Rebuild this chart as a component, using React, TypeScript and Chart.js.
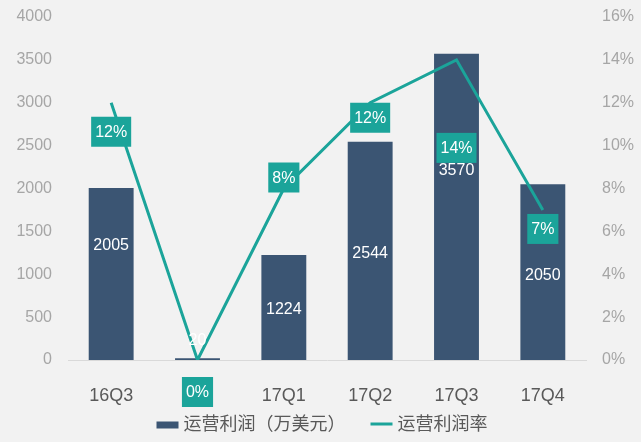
import React, { useEffect, useRef } from "react";
import { Chart, registerables } from "chart.js";

Chart.register(...registerables);

const categories = ["16Q3", "16Q4", "17Q1", "17Q2", "17Q3", "17Q4"];
const profit = [2005, 20, 1224, 2544, 3570, 2050];
const margin = [0.12, 0, 0.08, 0.12, 0.14, 0.07];
const profitLabel = "运营利润（万美元）";
const marginLabel = "运营利润率";
const leftTicks = [0, 500, 1000, 1500, 2000, 2500, 3000, 3500, 4000];
const hiddenCategoryLabels = ["16Q4"];

// label offsets (px) relative to anchor
const barLabelOffset = [-28, -19, 2, 3, -36, 3];
const lineLabelOffset = [29, 32, -11, 15, 88, 19];

const BAR = "#3B5573";
const TEAL = "#1BA49A";
const BG = "#F2F2F2";
const FONT = "'Liberation Sans', 'Noto Sans CJK SC', Arial, sans-serif";

const labelPlugin = {
  id: "customLabels",
  afterDatasetsDraw(chart: any) {
    const ctx = chart.ctx;
    const barMeta = chart.getDatasetMeta(0);
    const lineMeta = chart.getDatasetMeta(1);
    ctx.save();
    ctx.font = `16px ${FONT}`;
    ctx.textAlign = "center";
    ctx.textBaseline = "middle";
    barMeta.data.forEach((bar: any, i: number) => {
      const yc = (bar.y + bar.base) / 2 + barLabelOffset[i];
      ctx.fillStyle = "#FFFFFF";
      ctx.fillText(String(profit[i]), bar.x, yc);
    });
    lineMeta.data.forEach((pt: any, i: number) => {
      const text = Math.round(margin[i] * 100) + "%";
      const w = ctx.measureText(text).width + 8;
      const h = 30;
      const yc = pt.y + lineLabelOffset[i];
      ctx.fillStyle = TEAL;
      ctx.fillRect(pt.x - w / 2, yc - h / 2, w, h);
      ctx.fillStyle = "#FFFFFF";
      ctx.fillText(text, pt.x, yc + 1);
    });
    ctx.restore();
  },
  afterDraw(chart: any) {
    const ctx = chart.ctx;
    ctx.save();
    ctx.font = `18px ${FONT}`;
    ctx.textBaseline = "middle";
    ctx.textAlign = "left";
    const y = 425;
    const w1 = ctx.measureText(profitLabel).width;
    const w2 = ctx.measureText(marginLabel).width;
    const sym = 22;
    const gap = 5;
    const between = 25;
    const total = sym + gap + w1 + between + sym + gap + w2;
    let x = (chart.chartArea.left + chart.chartArea.right) / 2 - total / 2 - 5;
    ctx.fillStyle = BAR;
    ctx.fillRect(x, y - 3.5, sym, 7);
    x += sym + gap;
    ctx.fillStyle = "#595959";
    ctx.fillText(profitLabel, x, y);
    x += w1 + between;
    ctx.strokeStyle = TEAL;
    ctx.lineWidth = 3;
    ctx.beginPath();
    ctx.moveTo(x, y - 1);
    ctx.lineTo(x + sym, y - 1);
    ctx.stroke();
    x += sym + gap;
    ctx.fillStyle = "#595959";
    ctx.fillText(marginLabel, x, y);
    ctx.restore();
  },
};

export default function App() {
  const ref = useRef<HTMLCanvasElement | null>(null);
  useEffect(() => {
    document.body.style.margin = "0";
    document.body.style.background = BG;
    if (!ref.current) return;
    const chart = new Chart(ref.current, {
      type: "bar",
      data: {
        labels: categories,
        datasets: [
          {
            type: "bar",
            label: profitLabel,
            data: profit,
            backgroundColor: BAR,
            categoryPercentage: 1,
            barPercentage: 0.52,
            yAxisID: "y",
            order: 2,
          },
          {
            type: "line",
            label: marginLabel,
            data: margin,
            borderColor: TEAL,
            borderWidth: 3,
            pointRadius: 0,
            tension: 0,
            yAxisID: "y1",
            order: 1,
          } as any,
        ],
      },
      options: {
        animation: false,
        responsive: false,
        layout: { padding: { top: 17, bottom: 0, left: 0, right: 0 } },
        plugins: {
          legend: { display: false },
          tooltip: { enabled: false },
        },
        scales: {
          x: {
            grid: { display: false, drawTicks: false },
            border: { display: true, color: "#D9D9D9", width: 1 },
            ticks: {
              color: (c: any) =>
                hiddenCategoryLabels.includes(categories[c.index]) ? "rgba(0,0,0,0)" : "#595959",
              font: { family: FONT, size: 18 },
              padding: 25,
              maxRotation: 0,
            },
            afterFit(scale: any) {
              scale.height = 82;
              scale.paddingLeft = 0;
              scale.paddingRight = 0;
            },
          },
          y: {
            position: "left",
            min: 0,
            max: 4000,
            grid: { display: false, drawTicks: false },
            border: { display: false },
            afterBuildTicks(scale: any) {
              scale.ticks = leftTicks.map((v) => ({ value: v }));
            },
            ticks: {
              color: "#A6A6A6",
              font: { family: FONT, size: 16 },
              padding: 16,
              callback: (v: any) => String(v),
            },
            afterFit(scale: any) {
              scale.width = 68;
              scale.paddingTop = 0;
              scale.paddingBottom = 0;
            },
          },
          y1: {
            position: "right",
            min: 0,
            max: 0.16,
            grid: { display: false, drawTicks: false },
            border: { display: false },
            ticks: {
              stepSize: 0.02,
              color: "#A6A6A6",
              font: { family: FONT, size: 16 },
              padding: 16,
              callback: (v: any) => Math.round(Number(v) * 100) + "%",
            },
            afterFit(scale: any) {
              scale.width = 55;
              scale.paddingTop = 0;
              scale.paddingBottom = 0;
            },
          },
        },
      },
      plugins: [labelPlugin],
    });
    return () => chart.destroy();
  }, []);
  return (
    <div style={{ width: 641, height: 442, background: BG }}>
      <canvas ref={ref} width={641} height={442} style={{ display: "block" }} />
    </div>
  );
}
